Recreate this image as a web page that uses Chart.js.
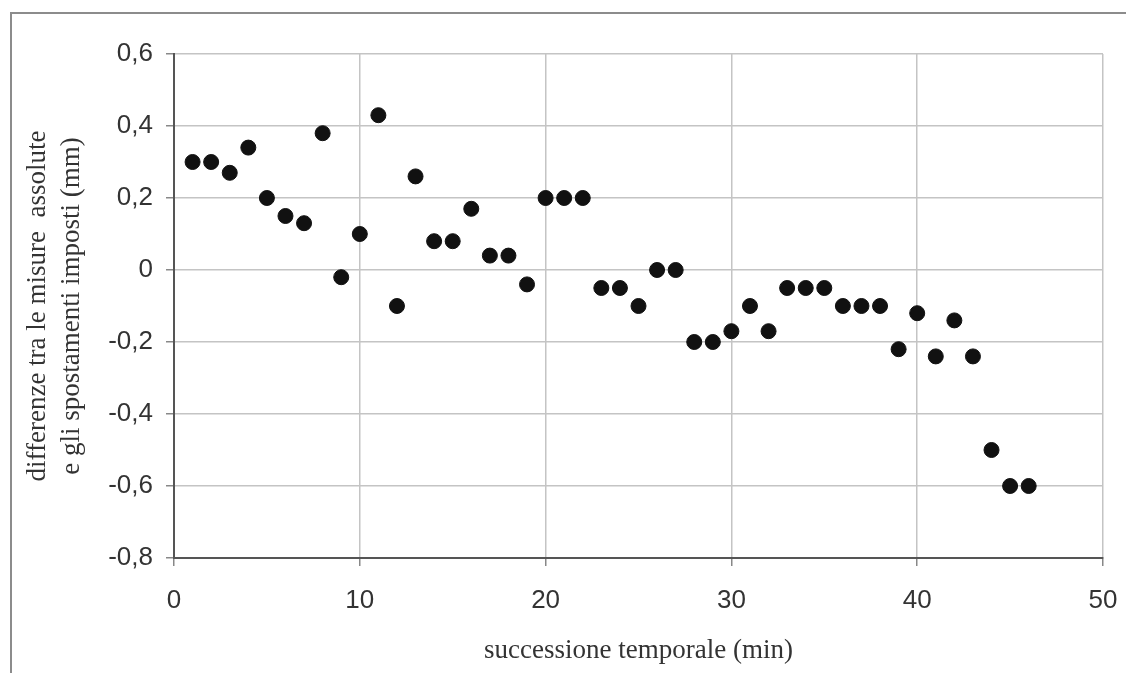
<!DOCTYPE html>
<html>
<head>
<meta charset="utf-8">
<script src="https://cdn.jsdelivr.net/npm/chart.js@4.4.1/dist/chart.umd.min.js"></script>
<style>
  html, body { margin: 0; padding: 0; background: #fff; }
  #cornice { position: absolute; left: 10px; top: 12px; width: 1140px; height: 700px; border: 2px solid #8c8c8c; }
  #grafico { position: absolute; left: 0; top: 0; }
</style>
</head>
<body>
<div id="cornice"></div>
<canvas id="grafico" width="1126" height="673"></canvas>
<script>
// Dati: minuti e differenze (mm)
const minuti = [1,2,3,4,5,6,7,8,9,10,11,12,13,14,15,16,17,18,19,20,21,22,23,24,25,26,27,28,29,30,31,32,33,34,35,36,37,38,39,40,41,42,43,44,45,46];
const differenze = [0.30,0.30,0.27,0.34,0.20,0.15,0.13,0.38,-0.02,0.10,0.43,-0.10,0.26,0.08,0.08,0.17,0.04,0.04,-0.04,0.20,0.20,0.20,-0.05,-0.05,-0.10,0,0,-0.20,-0.20,-0.17,-0.10,-0.17,-0.05,-0.05,-0.05,-0.10,-0.10,-0.10,-0.22,-0.12,-0.24,-0.14,-0.24,-0.50,-0.60,-0.60];

// Assi
const asseX = [0, 50, 10];      // min, max, passo
const asseY = [-0.8, 0.6, 0.2];
const titoloX = 'successione temporale (min)';
const titoloY = ['differenze tra le misure  assolute', 'e gli spostamenti imposti (mm)'];

let punti = minuti.map((m, i) => ({ x: m, y: differenze[i] }));

let grigio = '#c4c4c4';
let scuro = '#555555';
let fontNumeri = "'Liberation Sans', Arial, sans-serif";
let fontTitoli = "'Liberation Serif', 'Times New Roman', serif";

const ctx = document.getElementById('grafico').getContext('2d');
new Chart(ctx, {
  type: 'scatter',
  data: {
    datasets: [{
      label: 'differenze',
      data: punti,
      backgroundColor: '#111',
      borderColor: '#111',
      pointRadius: 7.5,
      pointHoverRadius: 7.5
    }]
  },
  options: {
    responsive: false,
    animation: false,
    devicePixelRatio: 1,
    layout: { padding: { left: 0, top: 54, right: 23, bottom: 0 } },
    scales: {
      x: {
        min: asseX[0],
        max: asseX[1],
        afterFit: s => { // area fino a y=558, niente margine extra per l'etichetta "50"
          s.height = 115
          s.paddingLeft = 0
          s.paddingRight = 0
        },
        ticks: {
          stepSize: asseX[2],
          color: '#333',
          padding: 19,
          maxRotation: 0,
          font: { family: fontNumeri, size: 26 }
        },
        grid: { color: grigio, lineWidth: 1.5, tickLength: 8, tickColor: '#888' },
        border: { color: scuro, width: 2 },
        title: {
          display: true,
          text: titoloX,
          color: '#333',
          padding: { top: 0, bottom: 6 },
          font: { family: fontTitoli, size: 27, lineHeight: 1.2 }
        }
      },
      y: {
        min: asseY[0],
        max: asseY[1],
        afterFit: s => {
          s.width = 174
          s.paddingTop = 0
          s.paddingBottom = 0
        },
        ticks: {
          stepSize: asseY[2],
          color: '#333',
          padding: 13,
          font: { family: fontNumeri, size: 26 },
          callback: v => Math.abs(v) < 1e-9 ? '0' : v.toFixed(1).replace('.', ',')
        },
        grid: { color: grigio, lineWidth: 1.5, tickLength: 8, tickColor: '#888' },
        border: { color: scuro, width: 2 },
        title: {
          display: true,
          text: titoloY,
          color: '#333',
          padding: { top: 21, bottom: 0 },
          font: { family: fontTitoli, size: 27, lineHeight: 1.25 }
        }
      }
    },
    plugins: {
      legend: { display: false },
      tooltip: { enabled: false }
    }
  }
});
</script>
</body>
</html>
